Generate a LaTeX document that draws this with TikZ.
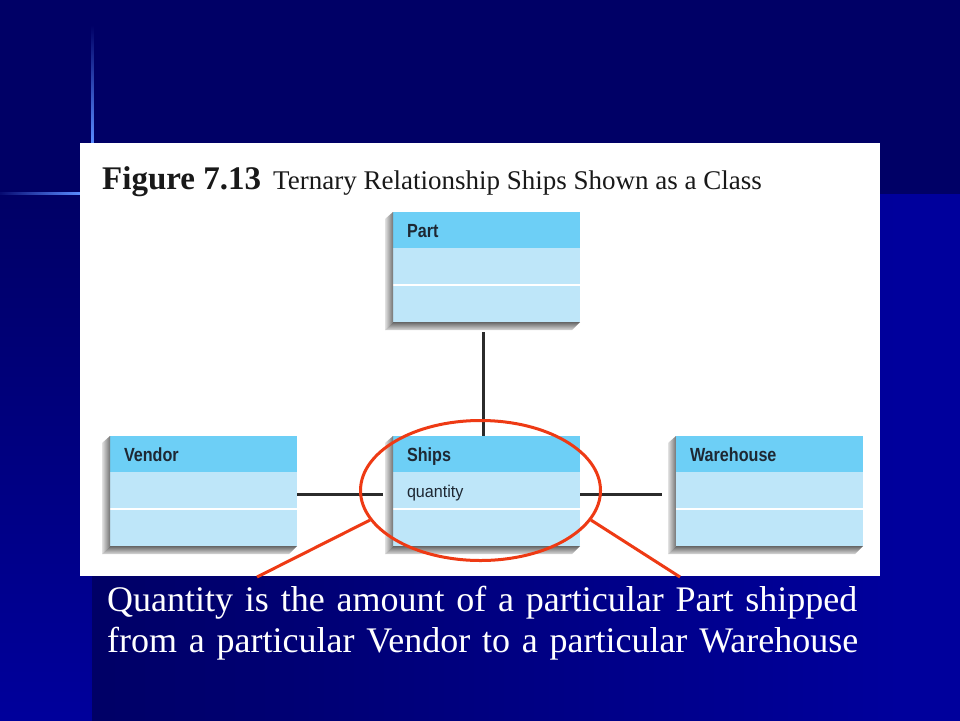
\documentclass[tikz,border=0pt]{standalone}
\usepackage{fontspec}
\usepackage{graphicx}
\setmainfont{Liberation Serif}
\newfontfamily\umlfont{Liberation Sans}
\usetikzlibrary{positioning,calc,shapes.geometric}

\definecolor{navy}{HTML}{000066}
\definecolor{deepblue}{HTML}{00009C}
\definecolor{glowblue}{HTML}{5A8CFF}
\definecolor{headblue}{HTML}{6DCFF6}
\definecolor{bodyblue}{HTML}{BEE6F9}
\definecolor{clsink}{HTML}{1E2833}
\definecolor{ringred}{HTML}{EE3A14}
\definecolor{linkgray}{HTML}{2B2B2B}

\tikzset{
  clshead/.style={fill=headblue, minimum width=187pt, minimum height=36pt,
    inner xsep=14pt, inner ysep=0pt, outer sep=0pt, text width=159pt, align=left,
    text height=14pt, text depth=0pt, text=clsink,
    font=\umlfont\bfseries\fontsize{19}{19}\selectfont},
  clsbody/.style={clshead, fill=bodyblue, minimum height=37pt,
    font=\umlfont\fontsize{17}{17}\selectfont},
  assoc/.style={draw=linkgray, line width=3pt},
  ring/.style={ellipse, draw=ringred, line width=3pt, inner sep=0pt},
  pointer/.style={draw=ringred, line width=3pt},
  notetext/.style={text=white, inner sep=0pt, font=\fontsize{36}{40}\selectfont}
}

\begin{document}
\begin{tikzpicture}[x=1pt,y=-1pt]
\useasboundingbox (0,0) rectangle (960,720);

% slide background
\fill[navy] (-6,-6) rectangle (966,726);
\fill[deepblue] (-6,194) rectangle (966,726);
\shade[top color=navy, bottom color=deepblue] (-6,194) rectangle (92,726);
\shade[left color=navy, right color=deepblue] (92,194) rectangle (900,726);
\shade[top color=navy, bottom color=glowblue] (91,25) rectangle (93.5,143);
\shade[left color=navy, right color=glowblue] (-6,192) rectangle (80,194.5);

% figure panel
\fill[white] (80,143) rectangle (880,576);
\node[anchor=base west, inner sep=0pt, text=black!90,
  font=\bfseries\fontsize{33}{33}\selectfont] (fignum) at (102,189) {Figure 7.13};
\node[anchor=base west, inner sep=0pt, text=black!90,
  font=\fontsize{27}{27}\selectfont] (figcap) at (273,189)
  {Ternary Relationship Ships Shown as a Class};

% class boxes
\foreach \id/\x/\y/\name/\attr in {part/393/212/Part/,
    vendor/110/436/Vendor/, ships/393/436/Ships/quantity,
    warehouse/676/436/Warehouse/}
{
  \node[clshead, anchor=north west] (\id) at (\x,\y) {\scalebox{0.85}[1]{\name}};
  \node[clsbody, below=0pt of \id] (\id-a) {\scalebox{0.95}[1]{\attr}};
  \node[clsbody, below=0pt of \id-a] (\id-b) {};
  \draw[white, line width=1.2pt] (\id-a.south west) -- (\id-a.south east);
  \shade[left color=black!12, right color=black!55] (\id.north west) -- ++(-8,7)
    -- ($(\id-b.south west)+(-8,8)$) -- (\id-b.south west) -- cycle;
  \shade[top color=black!60, bottom color=black!15] (\id-b.south west)
    -- ($(\id-b.south west)+(-8,8)$) -- ($(\id-b.south east)+(-8,8)$)
    -- (\id-b.south east) -- cycle;
}

% associations
\draw[assoc] ([xshift=-3pt,yshift=-10pt]part-b.south) -- ([xshift=-3pt]ships.north);
\draw[assoc] ([yshift=-4pt]vendor-a.east) -- ([xshift=-10pt,yshift=-4pt]ships-a.west);
\draw[assoc] ([yshift=-4pt]ships-a.east) -- ([xshift=-14pt,yshift=-4pt]warehouse-a.west);

% highlight on the association class
\node[ring, minimum width=240pt, minimum height=140pt] (hilite)
  at ([xshift=-6pt]ships-a.center) {};
\coordinate (tipL) at (257,577);
\coordinate (tipR) at (680,577);
\draw[pointer] (hilite.195) -- (tipL);
\draw[pointer] (hilite.345) -- (tipR);

% explanation
\node[notetext, anchor=base west] (note1) at (107,611)
  {\makebox[750pt][s]{Quantity is the amount of a particular Part shipped}};
\node[notetext, anchor=base west] (note2) at (107,652)
  {\makebox[751pt][s]{from a particular Vendor to a particular Warehouse}};

\end{tikzpicture}
\end{document}
